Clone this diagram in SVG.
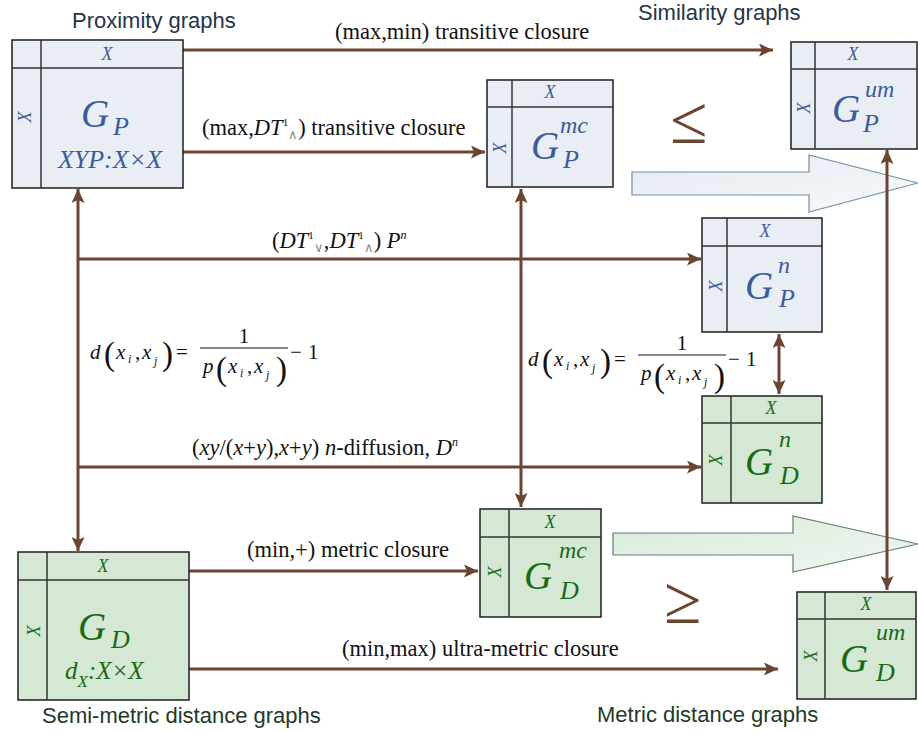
<svg xmlns="http://www.w3.org/2000/svg" width="918" height="732" viewBox="0 0 918 732">
<style>
.bb{fill:#e9eef4;stroke:#1e1e1e;stroke-width:1.5}
.gb{fill:#d5e8d4;stroke:#1e1e1e;stroke-width:1.5}
.in{stroke:#333;stroke-width:1.5}
.s{font-family:"Liberation Serif","Times New Roman",serif}
.i{font-style:italic}
.bt{fill:#3d5a9c}
.gt{fill:#166b16}
.hx{font-size:18px;text-anchor:middle}
.g{font-size:39px}
.sup{font-size:24px}
.sub{font-size:26px}
.conn{stroke:#6b4530;stroke-width:3;fill:none}
.lbl{font-family:"Liberation Serif","Times New Roman",serif;font-size:22.5px;fill:#111}
.ttl{font-family:"Liberation Sans",Arial,sans-serif;font-size:22px}
.f{font-family:"Liberation Serif","Times New Roman",serif;font-size:21px;fill:#111}
.par{font-size:33px}
.idx{font-size:12px}
.rel{font-family:"Liberation Serif","Times New Roman",serif;font-size:68px;fill:#6b4530}
</style>
<defs>
<marker id="ah" markerUnits="userSpaceOnUse" markerWidth="15" markerHeight="13" refX="14" refY="6.5" orient="auto-start-reverse">
<path d="M0,0 L14,6.5 L0,13 L3,6.5 z" fill="#6b4530"/>
</marker>
<linearGradient id="bgr" x1="0" y1="0" x2="1" y2="1">
<stop offset="0" stop-color="#e4ebf2"/><stop offset="1" stop-color="#f6f8fb"/>
</linearGradient>
<linearGradient id="ggr" x1="0" y1="0" x2="1" y2="1">
<stop offset="0" stop-color="#d9ead9"/><stop offset="1" stop-color="#f1f7f1"/>
</linearGradient>
</defs>

<!-- titles -->
<text class="ttl" x="72" y="28" fill="#24344a">Proximity graphs</text>
<text class="ttl" x="638" y="20" fill="#24344a">Similarity graphs</text>
<text class="ttl" x="42" y="723" fill="#213a27">Semi-metric distance graphs</text>
<text class="ttl" x="597" y="722" fill="#213a27">Metric distance graphs</text>

<!-- block arrows -->
<polygon points="632,172 809,172 809,155 918,183 809,212 809,195 632,195" fill="url(#bgr)" stroke="#6f8fa8" stroke-width="1.2"/>
<polygon points="613,533 793,533 793,516 918,544 793,572 793,555 613,555" fill="url(#ggr)" stroke="#5f7f6a" stroke-width="1.2"/>

<text class="rel" x="670" y="143">≤</text>
<text class="rel" x="664" y="623">≥</text>

<!-- connectors -->
<g id="connectors">
<path class="conn" d="M183,50 H773" marker-end="url(#ah)"/>
<path class="conn" d="M183,152 H485" marker-end="url(#ah)"/>
<path class="conn" d="M78,189 V551" marker-start="url(#ah)" marker-end="url(#ah)"/>
<path class="conn" d="M77,259 H701" marker-end="url(#ah)"/>
<path class="conn" d="M77,467 H701" marker-end="url(#ah)"/>
<path class="conn" d="M521,189 V507" marker-start="url(#ah)" marker-end="url(#ah)"/>
<path class="conn" d="M779,334 V394" marker-start="url(#ah)" marker-end="url(#ah)"/>
<path class="conn" d="M887,150 V590" marker-start="url(#ah)" marker-end="url(#ah)"/>
<path class="conn" d="M189,571 H478" marker-end="url(#ah)"/>
<path class="conn" d="M189,669 H778" marker-end="url(#ah)"/>

<text class="lbl" x="335" y="39">(max,min) transitive closure</text>
<text class="lbl" x="202" y="135">(max,<tspan class="i">DT</tspan><tspan font-size="11" dy="-9">1</tspan><tspan font-size="13" fill="#888" dy="13">∧</tspan><tspan dy="-4">) transitive closure</tspan></text>
<text class="lbl" x="272" y="248">(<tspan class="i">DT</tspan><tspan font-size="11" dy="-9">1</tspan><tspan font-size="13" fill="#888" dy="13">∨</tspan><tspan dy="-4">,</tspan><tspan class="i">DT</tspan><tspan font-size="11" dy="-9">1</tspan><tspan font-size="13" fill="#888" dy="13">∧</tspan><tspan dy="-4">) </tspan><tspan class="i">P</tspan><tspan font-size="12" class="i" dy="-9">n</tspan></text>
<text class="lbl" x="192" y="455">(<tspan class="i">xy</tspan>/(<tspan class="i">x</tspan>+<tspan class="i">y</tspan>),<tspan class="i">x</tspan>+<tspan class="i">y</tspan>) <tspan class="i">n</tspan>-diffusion, <tspan class="i">D</tspan><tspan font-size="12" class="i" dy="-9">n</tspan></text>
<text class="lbl" x="247" y="557">(min,+) metric closure</text>
<text class="lbl" x="342" y="656">(min,max) ultra-metric closure</text>

<g id="formula1">
<text class="f i" x="90" y="359">d</text>
<text class="f par" x="104" y="365">(</text>
<text class="f i" x="116" y="359">x</text>
<text class="f i idx" x="128" y="363">i</text>
<text class="f" x="135" y="359">,</text>
<text class="f i" x="142" y="359">x</text>
<text class="f i idx" x="154" y="365">j</text>
<text class="f par" x="162" y="365">)</text>
<text class="f" x="176" y="359" font-size="22">=</text>
<text class="f" x="244" y="343" text-anchor="middle">1</text>
<line x1="200" y1="348" x2="288" y2="348" stroke="#111" stroke-width="1.2"/>
<text class="f i" x="203" y="373">p</text>
<text class="f par" x="216" y="380">(</text>
<text class="f i" x="228" y="373">x</text>
<text class="f i idx" x="240" y="377">i</text>
<text class="f" x="247" y="373">,</text>
<text class="f i" x="254" y="373">x</text>
<text class="f i idx" x="266" y="379">j</text>
<text class="f par" x="276" y="380">)</text>
<text class="f" x="290" y="359">−</text>
<text class="f" x="308" y="359">1</text>
</g>
<g id="formula2" transform="translate(438,7)">
<text class="f i" x="90" y="359">d</text>
<text class="f par" x="104" y="365">(</text>
<text class="f i" x="116" y="359">x</text>
<text class="f i idx" x="128" y="363">i</text>
<text class="f" x="135" y="359">,</text>
<text class="f i" x="142" y="359">x</text>
<text class="f i idx" x="154" y="365">j</text>
<text class="f par" x="162" y="365">)</text>
<text class="f" x="176" y="359" font-size="22">=</text>
<text class="f" x="244" y="343" text-anchor="middle">1</text>
<line x1="200" y1="348" x2="288" y2="348" stroke="#111" stroke-width="1.2"/>
<text class="f i" x="203" y="373">p</text>
<text class="f par" x="216" y="380">(</text>
<text class="f i" x="228" y="373">x</text>
<text class="f i idx" x="240" y="377">i</text>
<text class="f" x="247" y="373">,</text>
<text class="f i" x="254" y="373">x</text>
<text class="f i idx" x="266" y="379">j</text>
<text class="f par" x="276" y="380">)</text>
<text class="f" x="290" y="359">−</text>
<text class="f" x="308" y="359">1</text>
</g>
</g>

<!-- nodes -->
<g id="GP">
<rect class="bb" x="12" y="40" width="171" height="148"/>
<line class="in" x1="12" y1="68" x2="183" y2="68"/>
<line class="in" x1="41" y1="40" x2="41" y2="188"/>
<text class="s i bt hx" x="107" y="60">X</text>
<text class="s i bt hx" transform="translate(31,117) rotate(-90)">X</text>
<text class="s i bt g" x="81" y="127">G</text>
<text class="s i bt sub" x="113" y="135">P</text>
<text class="s i bt" x="110" y="168" font-size="26" text-anchor="middle">XYP:X×X</text>
</g>

<g id="GPmc">
<rect class="bb" x="487" y="80" width="126" height="107"/>
<line class="in" x1="487" y1="107" x2="613" y2="107"/>
<line class="in" x1="512" y1="80" x2="512" y2="187"/>
<text class="s i bt hx" x="550" y="98">X</text>
<text class="s i bt hx" transform="translate(506,148) rotate(-90)">X</text>
<text class="s i bt g" x="531" y="159">G</text>
<text class="s i bt sup" x="560" y="133">mc</text>
<text class="s i bt sub" x="563" y="168">P</text>
</g>

<g id="GPum">
<rect class="bb" x="791" y="42" width="126" height="107"/>
<line class="in" x1="791" y1="69" x2="917" y2="69"/>
<line class="in" x1="815" y1="42" x2="815" y2="149"/>
<text class="s i bt hx" x="853" y="60">X</text>
<text class="s i bt hx" transform="translate(810,108) rotate(-90)">X</text>
<text class="s i bt g" x="832" y="122">G</text>
<text class="s i bt sup" x="865" y="97">um</text>
<text class="s i bt sub" x="863" y="132">P</text>
</g>

<g id="GPn">
<rect class="bb" x="702" y="218" width="120" height="114"/>
<line class="in" x1="702" y1="246" x2="822" y2="246"/>
<line class="in" x1="727" y1="218" x2="727" y2="332"/>
<text class="s i bt hx" x="765" y="237">X</text>
<text class="s i bt hx" transform="translate(722,286) rotate(-90)">X</text>
<text class="s i bt g" x="745" y="299">G</text>
<text class="s i bt sup" x="778" y="273">n</text>
<text class="s i bt sub" x="779" y="307">P</text>
</g>

<g id="GDn">
<rect class="gb" x="702" y="396" width="120" height="107"/>
<line class="in" x1="702" y1="423" x2="822" y2="423"/>
<line class="in" x1="731" y1="396" x2="731" y2="503"/>
<text class="s i gt hx" x="771" y="414">X</text>
<text class="s i gt hx" transform="translate(722,460) rotate(-90)">X</text>
<text class="s i gt g" x="745" y="475" font-size="41">G</text>
<text class="s i gt sup" x="779" y="447">n</text>
<text class="s i gt sub" x="780" y="484">D</text>
</g>

<g id="GD">
<rect class="gb" x="18" y="552" width="171" height="148"/>
<line class="in" x1="18" y1="580" x2="189" y2="580"/>
<line class="in" x1="47" y1="552" x2="47" y2="700"/>
<text class="s i gt hx" x="103" y="572">X</text>
<text class="s i gt hx" transform="translate(40,631) rotate(-90)">X</text>
<text class="s i gt g" x="78" y="640">G</text>
<text class="s i gt sub" x="111" y="648">D</text>
<text class="s i gt" x="65" y="679" font-size="25">d<tspan font-size="17" dy="8">X</tspan><tspan dy="-8">:X×X</tspan></text>
</g>

<g id="GDmc">
<rect class="gb" x="480" y="509" width="121" height="108"/>
<line class="in" x1="480" y1="537" x2="601" y2="537"/>
<line class="in" x1="509" y1="509" x2="509" y2="617"/>
<text class="s i gt hx" x="550" y="528">X</text>
<text class="s i gt hx" transform="translate(501,572) rotate(-90)">X</text>
<text class="s i gt g" x="524" y="589">G</text>
<text class="s i gt sup" x="559" y="558">mc</text>
<text class="s i gt sub" x="560" y="599">D</text>
</g>

<g id="GDum">
<rect class="gb" x="797" y="592" width="119" height="107"/>
<line class="in" x1="797" y1="619" x2="916" y2="619"/>
<line class="in" x1="825" y1="592" x2="825" y2="699"/>
<text class="s i gt hx" x="866" y="610">X</text>
<text class="s i gt hx" transform="translate(817,656) rotate(-90)">X</text>
<text class="s i gt g" x="840" y="672" font-size="41">G</text>
<text class="s i gt sup" x="876" y="640">um</text>
<text class="s i gt sub" x="876" y="681">D</text>
</g>
</svg>
